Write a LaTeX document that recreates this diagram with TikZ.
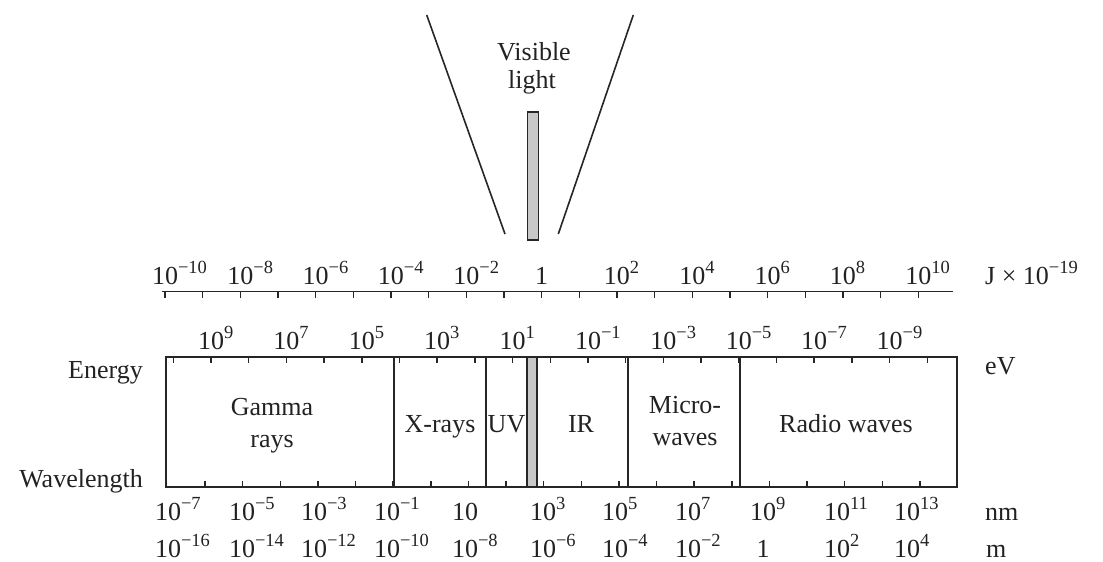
\documentclass[tikz,border=0pt]{standalone}
\usepackage{fontspec}
\setmainfont{Liberation Serif}
\newcommand{\figfont}{\fontsize{26}{30}\selectfont}
\newcommand{\tsup}[1]{\raisebox{0.4em}{\fontsize{18.5}{20}\selectfont #1}}
\newcommand{\tpow}[1]{10\rlap{\tsup{#1}}}
\definecolor{lc}{HTML}{262626}
\definecolor{tc}{HTML}{222222}
\definecolor{vis}{HTML}{C8C8C8}
\begin{document}
\begin{tikzpicture}[x=1pt,y=-1pt,
  axisline/.style={draw=lc,line width=1.9pt},
  boxline/.style={draw=lc,line width=1.9pt},
  divline/.style={draw=lc,line width=1.6pt},
  tick/.style={draw=lc,line width=1.5pt},
  lbl/.style={inner sep=0pt,anchor=base,text=tc,font=\figfont},
  unitlbl/.style={inner sep=0pt,anchor=base west,text=tc,font=\figfont},
  sidelbl/.style={inner sep=0pt,anchor=base east,text=tc,font=\figfont}]
\useasboundingbox (0,0) rectangle (1103,562);
% ---------- visible light zoom ----------
\coordinate (vlA) at (426.7,15);
\coordinate (vlB) at (505,234);
\coordinate (vrA) at (633.3,15);
\coordinate (vrB) at (558.3,234);
\draw[divline] (vlA) -- (vlB);
\draw[divline] (vrA) -- (vrB);
\coordinate (barNW) at (527.5,112);
\coordinate (barSE) at (538.5,240);
\draw[divline,fill=vis] (barNW) rectangle (barSE);
\node[lbl] (vis1) at (534,60) {Visible};
\node[lbl] (vis2) at (532,88) {light};
% ---------- J axis ----------
\coordinate (jL) at (162,291.5);
\coordinate (jR) at (953,291.5);
\draw[axisline] (jL) -- (jR);
\foreach \k in {0,...,20}
  \draw[tick] ({165+37.665*\k},291.5) -- ++(0,6);
\foreach \t [count=\i from 0] in {{\tpow{−10}},{\tpow{−8}},{\tpow{−6}},{\tpow{−4}},{\tpow{−2}},1,{\tpow{2}},{\tpow{4}},{\tpow{6}},{\tpow{8}},{\tpow{10}}}
  \node[lbl] (J\i) at ({165+75.33*\i},284) {\t};
\node[unitlbl] (Junit) at (985,284) {J × 10\tsup{−19}};
% ---------- eV labels ----------
\foreach \t [count=\i from 0] in {9,7,5,3,1,−1,−3,−5,−7,−9}
  \node[lbl] (E\i) at ({211+75.4*\i},349) {\tpow{\t}};
\node[unitlbl] (Eunit) at (985,374) {eV};
% ---------- main box ----------
\coordinate (boxNW) at (166,357);
\coordinate (boxSE) at (957,487);
\foreach \k in {0,...,20}
  \draw[tick] ({173.3+37.7*\k},357) -- ++(0,6);
\foreach \k in {0,...,19}
  \draw[tick] ({205+37.63*\k},487) -- ++(0,-6);
\coordinate (d1t) at (394,357); \coordinate (d1b) at (394,487);
\coordinate (d2t) at (486,357); \coordinate (d2b) at (486,487);
\coordinate (d3t) at (628,357); \coordinate (d3b) at (628,487);
\coordinate (d4t) at (740,357); \coordinate (d4b) at (740,487);
\draw[divline] (d1t) -- (d1b);
\draw[divline] (d2t) -- (d2b);
\draw[divline] (d3t) -- (d3b);
\draw[divline] (d4t) -- (d4b);
\coordinate (gbNW) at (527,357);
\coordinate (gbSE) at (537,487);
\draw[divline,fill=vis] (gbNW) rectangle (gbSE);
\draw[boxline] (boxNW) rectangle (boxSE);
\node[sidelbl] (energy) at (143,378) {Energy};
\node[sidelbl] (wavel) at (143,487) {Wavelength};
\node[lbl] (gam1) at (272,415) {Gamma};
\node[lbl] (gam2) at (272,447) {rays};
\node[lbl] (xray) at (440,432) {X-rays};
\node[lbl] (uv) at (506.5,432) {UV};
\node[lbl] (ir) at (581,432) {IR};
\node[lbl] (mic1) at (685,413) {Micro-};
\node[lbl] (mic2) at (685,445) {waves};
\node[lbl] (radio) at (846,432) {Radio waves};
% ---------- nm labels ----------
\foreach \x/\t [count=\i from 0] in {168/{\tpow{−7}},242/{\tpow{−5}},314/{\tpow{−3}},387/{\tpow{−1}},465/10,543/{\tpow{3}},615/{\tpow{5}},688/{\tpow{7}},763/{\tpow{9}},837/{\tpow{11}},907/{\tpow{13}}}
  \node[lbl] (N\i) at (\x,520) {\t};
\node[unitlbl] (Nunit) at (985,520) {nm};
% ---------- m labels ----------
\foreach \x/\t [count=\i from 0] in {168/{\tpow{−16}},242/{\tpow{−14}},314/{\tpow{−12}},387/{\tpow{−10}},465/{\tpow{−8}},543/{\tpow{−6}},615/{\tpow{−4}},688/{\tpow{−2}},763/1,837/{\tpow{2}},907/{\tpow{4}}}
  \node[lbl] (M\i) at (\x,557) {\t};
\node[unitlbl] (Munit) at (986,557) {m};
\end{tikzpicture}
\end{document}
